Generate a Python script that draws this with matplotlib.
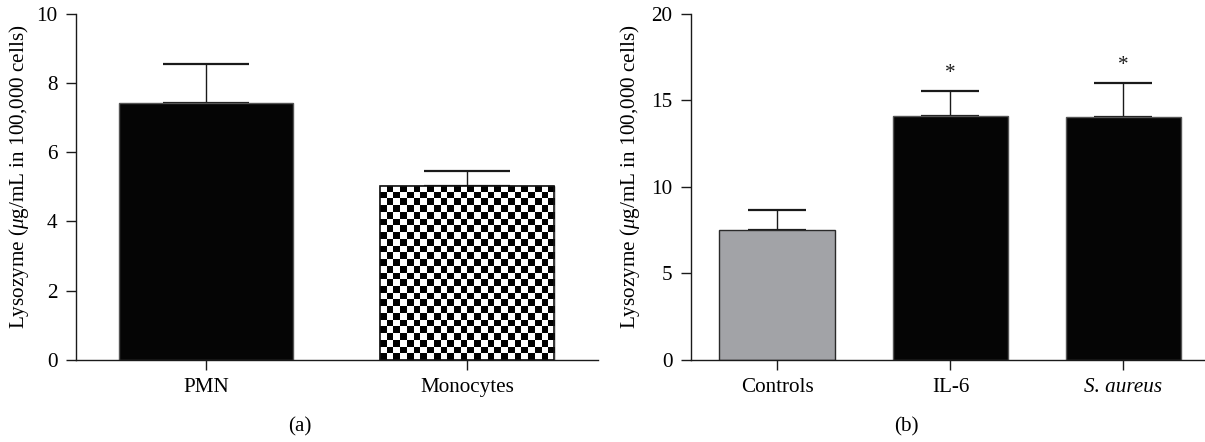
import numpy as np
from matplotlib import pyplot as plt
from matplotlib.patches import Rectangle

# panel (a)
cells = ['PMN', 'Monocytes']
cells_mean = [7.43, 5.03]
cells_err = [1.13, 0.41]

# panel (b)
groups = ['Controls', 'IL-6', 'S. aureus']
groups_mean = [7.48, 14.08, 14.04]
groups_err = [1.16, 1.48, 1.97]
groups_sig = ['', '*', '*']

plt.rcParams['font.family'] = ['Liberation Serif', 'DejaVu Serif']
plt.rcParams['mathtext.fontset'] = 'custom'
plt.rcParams['mathtext.rm'] = 'Liberation Serif'
plt.rcParams['mathtext.it'] = 'Liberation Serif:italic'
plt.rcParams['font.size'] = 15

YLABEL = r'Lysozyme ($\mathit{\mu}$g/mL in 100,000 cells)'
DARK = '#1a1a1a'
FS = 15.2


def style_axes(ax):
    for side in ['top', 'right']:
        ax.spines[side].set_visible(False)
    for side in ['left', 'bottom']:
        ax.spines[side].set_color(DARK)
        ax.spines[side].set_linewidth(1.0)
    ax.tick_params(direction='out', length=7.2, width=1.0, color=DARK,
                   pad=6, labelsize=FS)


def checker_fill(ax, bar, size_px=6.7):
    # checkerboard texture clipped to the bar, outline redrawn on top
    x0, y0 = bar.get_x(), bar.get_y()
    x1, y1 = x0 + bar.get_width(), y0 + bar.get_height()
    (px0, py0), (px1, py1) = ax.transData.transform([(x0, y0), (x1, y1)])
    nx = max(1, int(round((px1 - px0) / size_px)))
    ny = max(1, int(round((py1 - py0) / size_px)))
    board = (np.add.outer(np.arange(ny), np.arange(nx)) % 2).astype(float)
    im = ax.imshow(board, cmap='gray', extent=(x0, x1, y0, y1),
                   interpolation='nearest', aspect='auto', zorder=2,
                   origin='lower')
    im.set_clip_path(bar)
    ax.add_patch(Rectangle((x0, y0), x1 - x0, y1 - y0, fill=False,
                           edgecolor='#111111', linewidth=1.2, zorder=3))


fig = plt.figure(figsize=(12.05, 4.42), dpi=100)
ax1 = fig.add_axes([0.0629, 0.1862, 0.4332, 0.7828])
ax2 = fig.add_axes([0.5734, 0.1862, 0.4257, 0.7828])

# ---- panel (a)
x1 = np.arange(len(cells))
bars = ax1.bar(x1, cells_mean, width=0.667, color=['#050505', 'white'],
               edgecolor=['#555555', '#111111'], linewidth=1.0, zorder=2)
ax1.errorbar(x1, cells_mean, yerr=[np.zeros(len(cells)), cells_err],
             fmt='none', ecolor=DARK, elinewidth=1.0, capsize=31,
             capthick=1.6, zorder=1)
ax1.set_xlim(-0.5, 1.5)
ax1.set_ylim(0, 10)
ax1.set_yticks([0, 2, 4, 6, 8, 10])
ax1.set_xticks(x1)
ax1.set_xticklabels(cells)
style_axes(ax1)
checker_fill(ax1, bars[1])
ax1.set_ylabel(YLABEL, fontsize=FS)
ax1.yaxis.set_label_coords(-0.086, 0.53)

# ---- panel (b)
x2 = np.arange(len(groups))
ax2.bar(x2, groups_mean, width=0.67,
        color=['#a2a3a7', '#050505', '#050505'],
        edgecolor=['#2a2a2a', '#555555', '#555555'], linewidth=1.0,
        zorder=2)
ax2.errorbar(x2, groups_mean, yerr=[np.zeros(len(groups)), groups_err],
             fmt='none', ecolor=DARK, elinewidth=1.0, capsize=21,
             capthick=1.6, zorder=1)
for xi, m, e, s in zip(x2, groups_mean, groups_err, groups_sig):
    if s:
        ax2.text(xi, m + e + 1.0, s, ha='center', va='center',
                 fontsize=FS, color=DARK)
ax2.set_xlim(-0.5, 2.465)
ax2.set_ylim(0, 20)
ax2.set_yticks([0, 5, 10, 15, 20])
ax2.set_xticks(x2)
ax2.set_xticklabels(groups)
ax2.get_xticklabels()[2].set_style('italic')
style_axes(ax2)
ax2.set_ylabel(YLABEL, fontsize=FS)
ax2.yaxis.set_label_coords(-0.096, 0.53)

fig.text(0.249, 0.034, '(a)', ha='center', va='center', fontsize=FS)
fig.text(0.752, 0.034, '(b)', ha='center', va='center', fontsize=FS)

fig.savefig('out.png', dpi=100)
